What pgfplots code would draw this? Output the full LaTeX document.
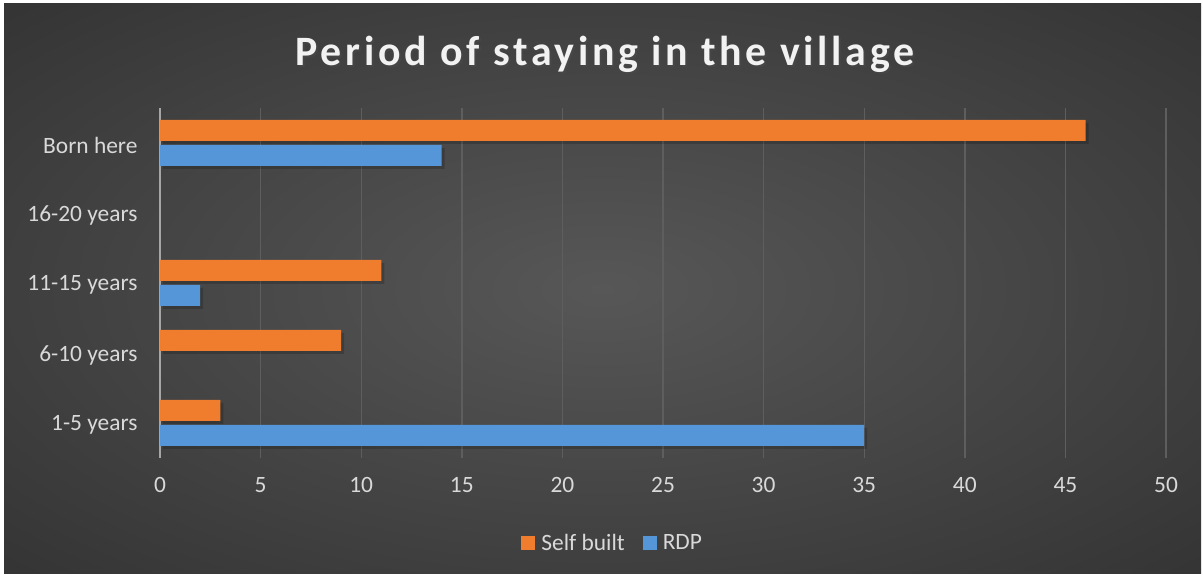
\documentclass[border=0pt]{standalone}
\usepackage{fontspec}
\setmainfont{Carlito}
\newfontfamily\titlefont[LetterSpace=9]{Carlito}
\usepackage{pgfplots}
\pgfplotsset{compat=1.18}
\definecolor{bgin}{HTML}{575757}
\definecolor{bgout}{HTML}{262626}
\definecolor{txt}{HTML}{D9D9D9}
\definecolor{gridc}{HTML}{5E5E5E}
\definecolor{axisc}{HTML}{A6A6A6}
\definecolor{selfc}{HTML}{F07C2E}
\definecolor{rdpc}{HTML}{5596D8}
\pgfdeclareradialshading{bgshade}{\pgfpoint{0bp}{0bp}}{color(0bp)=(bgin); color(50bp)=(bgout)}

\begin{document}
\begin{tikzpicture}[x=1bp,y=1bp]
\fill[white] (0,0) rectangle (1203,576);
\shade[shading=bgshade] (4,2) rectangle (1201,572);
\node[font=\titlefont\fontsize{42}{47}\selectfont\bfseries, text=black!70, opacity=0.45, anchor=base] at (607,508) {Period of staying in the village};
\node[font=\titlefont\fontsize{42}{47}\selectfont\bfseries, text=white!95!black, anchor=base] at (605,510) {Period of staying in the village};
\begin{axis}[
  at={(160bp,118bp)}, anchor=south west, scale only axis,
  width=1006bp, height=350bp,
  xbar, bar width=21bp,
  xmin=0, xmax=50, ymin=-0.5, ymax=4.5,
  xtick={0,5,...,50}, ytick={0,...,4},
  yticklabels={1-5 years,6-10 years,11-15 years,16-20 years,Born here},
  major tick length=0pt,
  axis x line*=bottom, axis y line*=left,
  x axis line style={draw=none},
  y axis line style={draw=axisc, line width=1.6bp},
  xmajorgrids, grid style={draw=gridc, line width=1.4bp},
  /pgf/number format/assume math mode=true,
  tick label style={text=txt, font=\fontsize{23.5}{28}\selectfont},
  xticklabel style={yshift=-16bp},
  yticklabel style={xshift=-19bp, yshift=-2bp},
  legend style={at={(0.45,-0.243)}, anchor=center, draw=none, fill=none,
    text=txt, font=\fontsize{23.5}{28}\selectfont, legend columns=-1,
    /tikz/every odd column/.append style={column sep=4bp},
    /tikz/every even column/.append style={column sep=16bp}},
  legend image code/.code={\fill[#1,draw=none] (0bp,-7bp) rectangle (14bp,7bp);},
]
% soft shadows under the bars
\addplot[xbar, bar shift=12.5bp, draw=none, fill=black, opacity=0.18, xshift=3bp, yshift=-3bp, forget plot]
  coordinates {(3,0) (9,1) (11,2) (46,4)};
\addplot[xbar, bar shift=-12.5bp, draw=none, fill=black, opacity=0.18, xshift=3bp, yshift=-3bp, forget plot]
  coordinates {(35,0) (2,2) (14,4)};
\addplot[xbar, bar shift=12.5bp, draw=none, fill=selfc]
  coordinates {(3,0) (9,1) (11,2) (46,4)};
\addplot[xbar, bar shift=-12.5bp, draw=none, fill=rdpc]
  coordinates {(35,0) (2,2) (14,4)};
\legend{Self built,RDP}
\end{axis}
\end{tikzpicture}
\end{document}
